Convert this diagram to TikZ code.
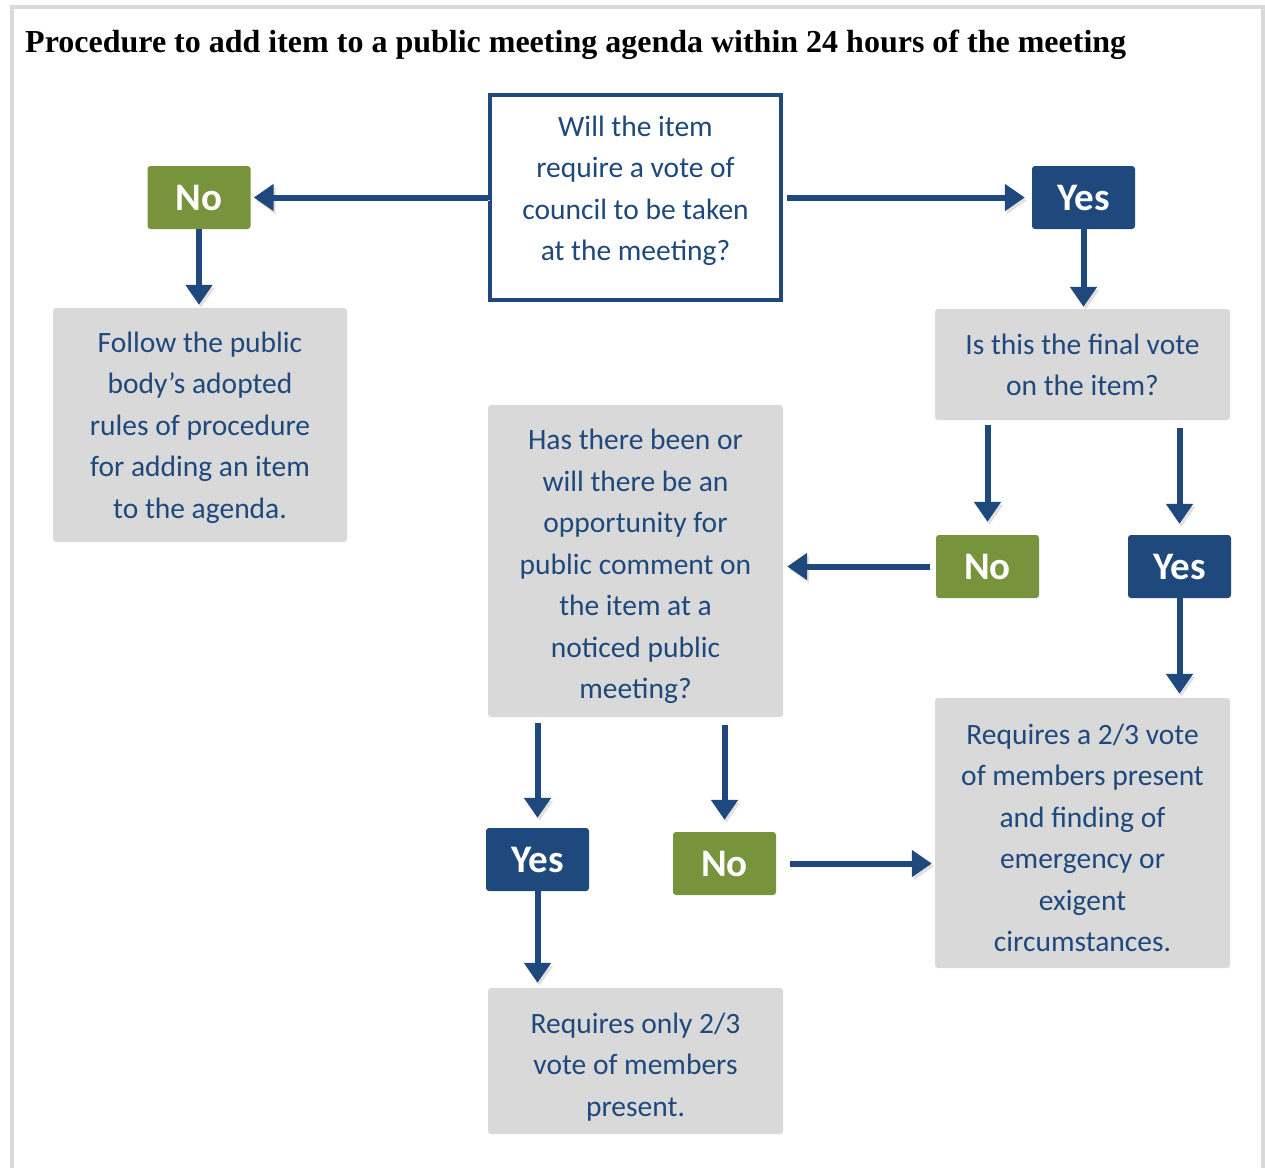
\documentclass[tikz,border=0pt]{standalone}
\usepackage{fontspec}
\setmainfont{Carlito}
\newfontfamily\titlefont{Liberation Serif}
\usetikzlibrary{arrows.meta,calc}
\definecolor{dblue}{HTML}{1F497D}
\definecolor{ogreen}{HTML}{77933C}
\definecolor{lgray}{HTML}{D9D9D9}
\begin{document}
\begin{tikzpicture}[x=1pt,y=-1pt,
 txt/.style={font=\fontsize{29.5}{41.5}\selectfont, text=dblue, align=center, inner sep=0pt},
 gbox/.style={fill=lgray, rounded corners=3pt, inner sep=0pt},
 qbox/.style={draw=dblue, line width=4pt, fill=white, inner sep=0pt},
 yesbox/.style={fill=dblue, text=white, rounded corners=3pt, font=\fontsize{39}{42}\selectfont\bfseries, minimum width=103pt, minimum height=63pt, inner sep=0pt},
 nobox/.style={yesbox, fill=ogreen},
 arr/.style={line width=6pt, draw=dblue, -{Triangle[length=20pt,width=26pt]}, preaction={draw=black!12, transform canvas={xshift=2pt,yshift=-3pt}}},
]
\useasboundingbox (0,0) rectangle (1265,1167);
\draw[lgray, line width=4pt] (12,1169) -- (12,7) -- (1263,7) -- (1263,1169);

\node[anchor=base west, inner sep=0pt, font=\titlefont\bfseries\fontsize{32}{36}\selectfont] (title) at (25,52) {Procedure to add item to a public meeting agenda within 24 hours of the meeting};

\node[qbox, minimum width=291pt, minimum height=205pt] (q1) at (635.5,197.5) {};
\node[txt] (q1t) at ($(q1.center)+(0,-6.5)$) {Will the item\\require a vote of\\council to be taken\\at the meeting?};
\node[nobox] (n1) at (199,197.5) {No};
\node[yesbox] (y1) at (1083.5,197.5) {Yes};
\node[gbox, minimum width=294pt, minimum height=234pt] (a) at (200,425) {};
\node[txt] (at) at ($(a.center)+(0,2.5)$) {Follow the public\\body’s adopted\\rules of procedure\\for adding an item\\to the agenda.};
\node[gbox, minimum width=295pt, minimum height=111pt] (q2) at (1082.5,364.5) {};
\node[txt] (q2t) at ($(q2.center)+(0,0.5)$) {Is this the final vote\\on the item?};
\node[nobox] (n2) at (987.5,566.5) {No};
\node[yesbox] (y2) at (1179.5,566.5) {Yes};
\node[gbox, minimum width=295pt, minimum height=312pt] (q3) at (635.5,561) {};
\node[txt] (q3t) at ($(q3.center)+(0,5.5)$) {Has there been or\\will there be an\\opportunity for\\public comment on\\the item at a\\noticed public\\meeting?};
\node[gbox, minimum width=295pt, minimum height=270pt] (r2) at (1082.5,833) {};
\node[txt] (r2t) at ($(r2.center)+(0,5)$) {Requires a 2/3 vote\\of members present\\and finding of\\emergency or\\exigent\\circumstances.};
\node[yesbox] (y3) at (537.5,859.5) {Yes};
\node[nobox] (n3) at (724.5,863.5) {No};
\node[gbox, minimum width=295pt, minimum height=146pt] (r1) at (635.5,1061) {};
\node[txt] (r1t) at ($(r1.center)+(0,6)$) {Requires only 2/3\\vote of members\\present.};

\draw[arr, shorten >=3pt] (q1.west) -- (n1.east);
\draw[arr, shorten <=4pt, shorten >=7pt] (q1.east) -- (y1.west);
\draw[arr, shorten >=3pt] (n1.south) -- (n1.south |- a.north);
\draw[arr, shorten >=2pt] (y1.south) -- (y1.south |- q2.north);
\draw[arr, shorten <=5pt, shorten >=13pt] (n2.north |- q2.south) -- (n2.north);
\draw[arr, shorten <=8pt, shorten >=11pt] (y2.north |- q2.south) -- (y2.north);
\draw[arr, shorten <=6pt, shorten >=4pt] (n2.west) -- (n2.west -| q3.east);
\draw[arr, shorten >=4pt] (y2.south) -- (y2.south |- r2.north);
\draw[arr, shorten <=6pt, shorten >=10pt] (y3.north |- q3.south) -- (y3.north);
\draw[arr, shorten <=8pt, shorten >=12pt] (n3.north |- q3.south) -- (n3.north);
\draw[arr, shorten <=14pt, shorten >=3pt] (n3.east) -- (n3.east -| r2.west);
\draw[arr, shorten >=5pt] (y3.south) -- (y3.south |- r1.north);
\end{tikzpicture}
\end{document}
